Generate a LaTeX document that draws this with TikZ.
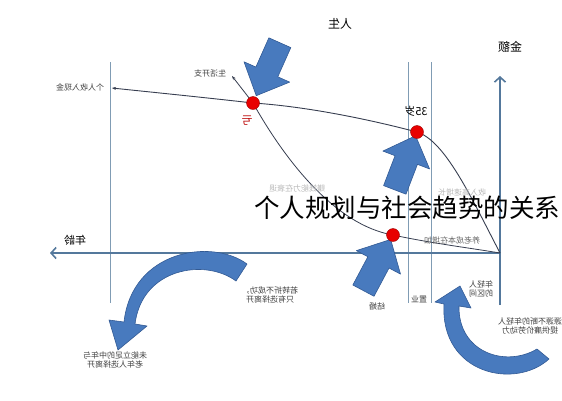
\documentclass[tikz,border=0pt]{standalone}
\usepackage{fontspec}
\setmainfont{Noto Sans CJK SC}
\usetikzlibrary{arrows.meta}

\definecolor{axisblue}{RGB}{84,120,156}
\definecolor{gridblue}{RGB}{128,156,180}
\definecolor{curvegray}{RGB}{55,62,80}
\definecolor{arrowblue}{RGB}{72,122,190}
\definecolor{arrowedge}{RGB}{50,90,148}
\definecolor{dotred}{RGB}{232,0,0}

% block arrow aimed at a point: #1 target, #2 angle, #3 gap
\newcommand{\blockarrow}[3]{%
  \draw[bigarrow,shift={(#1)},rotate=#2] (-#3,0) -- (-#3-26,25) -- (-#3-26,12)
    -- (-#3-58,12) -- (-#3-58,-12) -- (-#3-26,-12) -- (-#3-26,-25) -- cycle;}

\begin{document}
\begin{tikzpicture}[x=1pt,y=-1pt,font=\fontsize{8}{9.5}\selectfont]
    \tikzstyle{mirror}=[xscale=-1,transform shape]
    \tikzstyle{dot}=[circle,fill=dotred,draw=red!60!black,minimum size=13pt,inner sep=0pt]
    \tikzstyle{note}=[mirror,align=center,text=black!75,inner sep=1pt]
    \tikzstyle{faint}=[mirror,text=black!28,inner sep=1pt]
    \tikzstyle{bigarrow}=[fill=arrowblue,draw=arrowedge,line width=0.6pt,line join=round]
    \tikzstyle{axis}=[draw=axisblue,line width=1.6pt,-{Straight Barb[length=5pt,width=11pt]}]
    \tikzstyle{curve}=[draw=curvegray,line width=0.9pt]

    \useasboundingbox (0,0) rectangle (562,400);

    % period lines
    \foreach \x in {110,408,431}
    \draw[gridblue,line width=1pt] (\x,62) -- (\x,303);

    % axes
    \coordinate (O) at (500,253);
    \coordinate (ageEnd) at (50,253);
    \coordinate (sumFoot) at (500,305);
    \coordinate (sumEnd) at (500,76);
    \draw[axis] (O) -- (ageEnd);
    \draw[axis] (sumFoot) -- (sumEnd);

    % turning points
    \coordinate (cross) at (253,103);
    \coordinate (age35) at (417,132);
    \coordinate (marry) at (393,235);
    \coordinate (incomeEnd) at (112,88);
    \coordinate (spendEnd) at (232,76);

    % income and spending curves
    \draw[curve,-{Stealth[length=4pt,width=3pt]}] (O) .. controls (470,195) and (445,141) .. (age35)
      .. controls (360,117) and (300,106) .. (cross)
      .. controls (200,97) and (150,92) .. (incomeEnd);
    \draw[curve,line width=0.8pt,-{Stealth[length=4pt,width=3pt]}] (O) .. controls (470,248) and (430,243) .. (marry)
      .. controls (335,225) and (285,160) .. (cross) -- (spendEnd);

    % block arrows
    \blockarrow{cross}{-114}{8}
    \blockarrow{age35}{69}{4}
    \blockarrow{marry}{62}{5}

    % curved arrows
    \filldraw[bigarrow] (247,264) .. controls (212,238) and (132,250) .. (124,322)
      -- (109,320) -- (118,350) -- (147,326) -- (135,324)
      .. controls (142,268) and (205,258) .. (236,281) -- cycle;
    \filldraw[bigarrow] (549,359) .. controls (515,390) and (440,374) .. (444,304)
      -- (435,302) -- (460,286) -- (471,308) -- (459,306)
      .. controls (458,352) and (505,368) .. (537,349) -- cycle;

    % dots
    \node[dot] (crossDot) at (cross) {};
    \node[dot] (age35Dot) at (age35) {};
    \node[dot] (marryDot) at (marry) {};

    % labels
    \node[mirror,font=\fontsize{12}{12}\selectfont] (life) at (340,24) {人生};
    \node[mirror,font=\fontsize{12}{12}\selectfont] (amount) at (510,47) {金额};
    \node[mirror,font=\fontsize{11}{11}\selectfont] (age) at (75,240) {年龄};
    \node[mirror,font=\fontsize{11}{11}\selectfont] (age35Lbl) at (416,111) {35岁};
    \node[mirror,text=dotred!80!black,font=\fontsize{11}{11}\selectfont] (loss) at (247,121) {亏};
    \node[note] (incomeLbl) at (80,87) {个人收入现金};
    \node[note] (spendLbl) at (210,73) {生活开支};
    \node[faint] (declineLbl) at (297,188) {赚钱能力在衰退};
    \node[faint] (riseLbl) at (462,192) {收入高速增长};
    \node[note,text=black!60] (costLbl) at (452,240) {养老成本在增加};
    \node[note] (marryLbl) at (377,306) {结婚};
    \node[note] (houseLbl) at (419,299) {置业};
    \node[note] (youthLbl) at (481,289) {年轻人\\的区间};
    \node[note] (labourLbl) at (530,326) {源源不断的年轻人\\提供廉价劳动力};
    \node[note] (quitLbl) at (270,295) {若转折不成功，\\只有选择离开};
    \node[note] (leaveLbl) at (115,360) {未能立足的中年与\\老年人选择离开};

    % title
    \node[font=\fontsize{25.5}{26}\selectfont] (title) at (407,208) {个人规划与社会趋势的关系};
\end{tikzpicture}
\end{document}
